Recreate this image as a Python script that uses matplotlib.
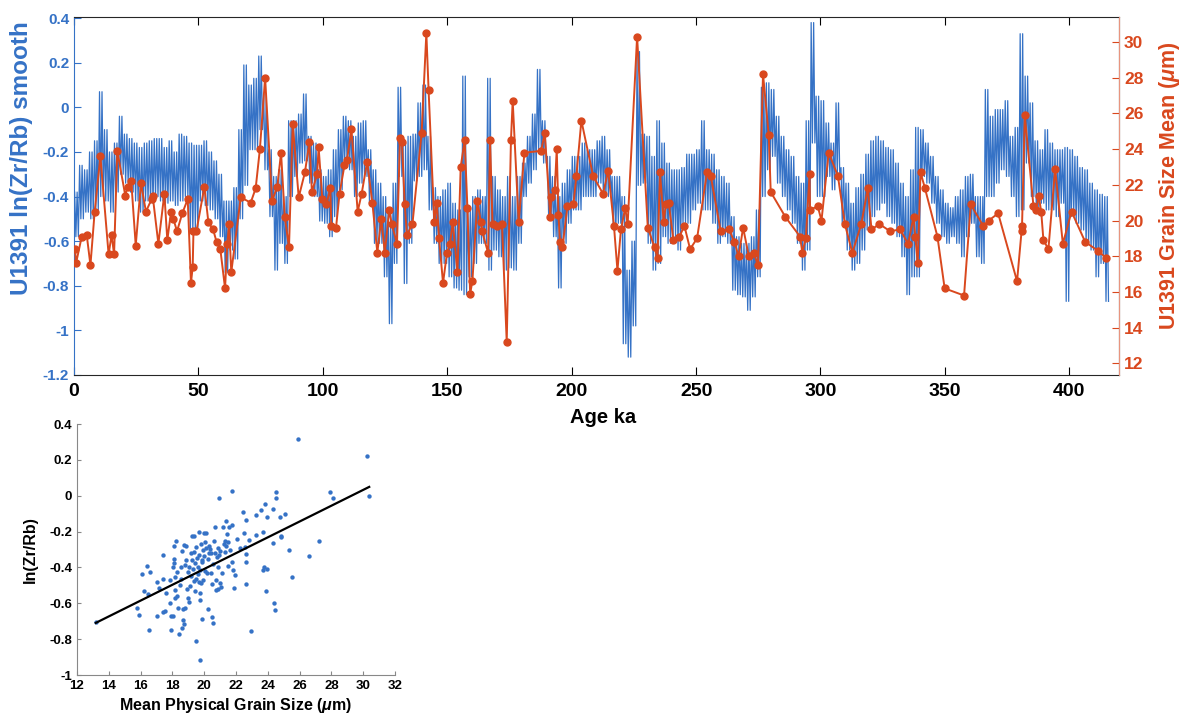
import matplotlib
matplotlib.use('Agg')
import matplotlib.pyplot as plt
import numpy as np

plt.rcParams['font.family'] = ['Liberation Sans', 'DejaVu Sans']
plt.rcParams['font.weight'] = 'bold'
plt.rcParams['axes.labelweight'] = 'bold'
plt.rcParams['mathtext.fontset'] = 'custom'
plt.rcParams['mathtext.rm'] = 'Liberation Sans:bold'
plt.rcParams['mathtext.it'] = 'Liberation Sans:italic:bold'

BLUE = '#3572C6'
RED = '#D9481E'

# ln(Zr/Rb) smooth: envelope (low / high) in 2 ka bins, bins start at 0 ka
xrf_bin_start = np.arange(0, 416, 2)
xrf_lo = [-0.58, -0.50, -0.47, -0.50, -0.46, -0.40, -0.42, -0.47, -0.38, -0.30,
          -0.34, -0.38, -0.42, -0.47, -0.42, -0.43, -0.40, -0.42, -0.43, -0.42,
          -0.44, -0.42, -0.40, -0.56, -0.55, -0.42, -0.44, -0.46, -0.50, -0.58,
          -0.74, -0.64, -0.68, -0.50, -0.35, -0.19, -0.19, -0.10, -0.28, -0.49,
          -0.73, -0.61, -0.70, -0.40, -0.31, -0.25, -0.24, -0.34, -0.40, -0.51,
          -0.52, -0.58, -0.49, -0.37, -0.25, -0.28, -0.40, -0.34, -0.31, -0.43,
          -0.61, -0.61, -0.76, -0.97, -0.70, -0.31, -0.79, -0.61, -0.33, -0.31,
          -0.28, -0.46, -0.61, -0.70, -0.70, -0.76, -0.81, -0.82, -0.84, -0.76,
          -0.70, -0.61, -0.61, -0.73, -0.64, -0.67, -0.73, -0.72, -0.73, -0.61,
          -0.40, -0.34, -0.28, -0.19, -0.25, -0.49, -0.58, -0.81, -0.61, -0.52,
          -0.46, -0.46, -0.40, -0.40, -0.40, -0.34, -0.40, -0.40, -0.55, -0.52,
          -1.06, -1.12, -0.98, -0.35, -0.34, -0.61, -0.73, -0.70, -0.58, -0.61,
          -0.58, -0.64, -0.52, -0.52, -0.46, -0.43, -0.46, -0.46, -0.52, -0.61,
          -0.58, -0.61, -0.82, -0.84, -0.85, -0.91, -0.85, -0.76, -0.40, -0.28,
          -0.22, -0.34, -0.40, -0.46, -0.52, -0.61, -0.73, -0.64, -0.16, -0.40,
          -0.40, -0.31, -0.37, -0.31, -0.52, -0.64, -0.73, -0.70, -0.64, -0.55,
          -0.49, -0.46, -0.43, -0.49, -0.52, -0.58, -0.67, -0.84, -0.76, -0.76,
          -0.31, -0.34, -0.43, -0.52, -0.58, -0.61, -0.58, -0.61, -0.67, -0.58,
          -0.52, -0.67, -0.70, -0.40, -0.40, -0.34, -0.28, -0.31, -0.40, -0.49,
          -0.46, -0.25, -0.40, -0.46, -0.43, -0.46, -0.46, -0.49, -0.43, -0.87,
          -0.49, -0.52, -0.55, -0.61, -0.64, -0.76, -0.70, -0.87]
xrf_hi = [-0.38, -0.26, -0.28, -0.20, -0.15, 0.07, -0.10, -0.20, -0.16, -0.04,
          -0.12, -0.14, -0.16, -0.18, -0.16, -0.15, -0.14, -0.14, -0.18, -0.15,
          -0.20, -0.12, -0.13, -0.16, -0.17, -0.17, -0.15, -0.20, -0.24, -0.30,
          -0.42, -0.42, -0.36, -0.10, 0.19, 0.10, 0.13, 0.23, 0.06, -0.19,
          -0.31, -0.28, -0.40, -0.06, -0.06, -0.03, 0.06, -0.13, -0.16, -0.28,
          -0.31, -0.28, -0.19, -0.10, -0.04, -0.06, -0.13, -0.07, -0.06, -0.19,
          -0.28, -0.34, -0.40, -0.46, -0.34, 0.09, -0.16, -0.13, -0.12, 0.02,
          0.10, -0.13, -0.36, -0.40, -0.37, -0.34, -0.43, -0.46, 0.14, -0.46,
          -0.40, -0.37, -0.40, 0.13, -0.31, -0.37, -0.40, -0.31, -0.40, -0.31,
          -0.25, -0.13, -0.03, 0.17, -0.06, -0.22, -0.31, -0.40, -0.34, -0.28,
          -0.22, -0.22, -0.16, -0.19, -0.19, -0.15, -0.13, -0.19, -0.31, -0.31,
          -0.40, -0.73, -0.60, 0.25, -0.12, -0.13, -0.22, -0.06, -0.16, -0.25,
          -0.28, -0.28, -0.27, -0.21, -0.21, -0.19, -0.06, -0.19, -0.21, -0.28,
          -0.31, -0.34, -0.49, -0.58, -0.61, -0.61, -0.58, -0.46, 0.09, 0.11,
          0.08, -0.04, -0.13, -0.19, -0.22, -0.31, -0.34, -0.06, 0.38, 0.05,
          0.03, -0.07, -0.16, 0.02, -0.27, -0.34, -0.43, -0.36, -0.30, -0.21,
          -0.15, -0.13, -0.15, -0.18, -0.19, -0.25, -0.34, -0.40, -0.28, -0.09,
          -0.10, -0.16, -0.22, -0.31, -0.37, -0.43, -0.45, -0.40, -0.37, -0.31,
          -0.30, -0.40, -0.40, 0.08, -0.04, -0.01, -0.01, 0.03, -0.13, -0.09,
          0.33, 0.14, 0.02, -0.15, -0.19, -0.10, -0.16, -0.19, -0.19, -0.18,
          -0.19, -0.22, -0.27, -0.28, -0.34, -0.37, -0.39, -0.40]

# grain size mean (um) against age (ka)
gs_age = [0.4, 0.8, 3.1, 5.1, 6.6, 8.3, 10.6, 13.9, 15.1, 16.1, 17.4, 20.6, 21.6, 23.0,
          24.8, 26.9, 28.9, 31.2, 31.6, 33.9, 36.3, 37.5, 39.0, 39.9, 41.4, 43.5, 45.7,
          47.0, 47.7, 48.0, 49.2, 52.4, 54.0, 55.9, 57.3, 58.8, 60.7, 61.6, 62.3, 63.2,
          67.0, 71.0, 73.0, 74.7, 76.8, 79.6, 81.7, 83.2, 84.7, 86.4, 87.9, 90.3, 92.8,
          94.6, 95.6, 97.7, 98.3, 99.8, 101.4, 103.0, 103.4, 105.3, 106.7, 108.7, 109.7,
          111.5, 114.0, 115.6, 117.8, 119.9, 121.9, 123.5, 124.9, 126.7, 127.7, 129.8,
          131.0, 131.8, 132.9, 133.8, 136.0, 139.7, 141.6, 142.5, 144.8, 145.8, 146.7,
          148.3, 149.9, 151.1, 152.2, 154.1, 155.4, 157.0, 158.1, 159.2, 160.1, 162.1,
          163.5, 164.0, 166.4, 167.2, 168.2, 170.0, 172.0, 173.9, 175.6, 176.3, 178.7,
          181.0, 187.7, 189.2, 191.4, 191.8, 193.2, 194.0, 194.7, 195.3, 196.3, 198.3,
          200.7, 201.9, 203.9, 208.6, 212.6, 214.7, 217.0, 218.4, 219.8, 221.5, 222.5,
          226.3, 230.6, 233.3, 234.5, 235.5, 237.0, 237.8, 239.0, 240.9, 243.3, 245.3,
          247.6, 250.4, 254.4, 255.9, 259.9, 263.3, 265.4, 267.1, 268.9, 271.2, 273.1,
          274.9, 276.9, 279.2, 280.0, 285.9, 291.8, 292.7, 294.1, 295.6, 295.8, 298.9,
          300.4, 303.3, 307.0, 309.8, 312.8, 316.4, 319.0, 320.5, 323.7, 328.0, 332.0,
          335.2, 337.4, 338.1, 339.1, 340.2, 342.0, 347.0, 349.9, 357.7, 360.4, 365.4,
          367.6, 371.4, 379.0, 380.8, 381.0, 382.1, 385.6, 386.7, 387.7, 388.7, 389.6,
          391.6, 394.3, 397.4, 400.9, 406.4, 411.6, 414.8]
gs_mean = [18.4, 17.6, 19.1, 19.2, 17.5, 20.5, 23.6, 18.1, 19.2, 18.1, 23.9, 21.4, 21.9, 22.2,
           18.6, 22.1, 20.5, 21.2, 21.4, 18.7, 21.5, 18.9, 20.5, 20.1, 19.4, 20.4, 21.2,
           16.5, 17.4, 19.4, 19.4, 21.9, 19.9, 19.5, 18.8, 18.4, 16.2, 18.7, 19.8, 17.1,
           21.3, 21.0, 21.8, 24.0, 28.0, 21.1, 21.9, 23.8, 20.2, 18.5, 25.4, 21.3, 22.7,
           24.4, 21.6, 22.6, 24.1, 21.2, 20.9, 21.8, 19.7, 19.6, 21.5, 23.1, 23.4,
           25.1, 20.5, 21.5, 23.3, 21.0, 18.2, 20.1, 18.2, 20.6, 19.8, 18.7,
           24.6, 24.4, 20.9, 19.2, 19.8, 24.9, 30.5, 27.3, 19.9, 21.0, 19.0,
           16.5, 18.2, 18.7, 19.9, 17.1, 23.0, 24.5, 20.7, 15.9, 16.6, 21.1,
           19.9, 19.4, 18.2, 24.5, 19.8, 19.7, 19.8, 13.2, 24.5, 26.7, 19.9,
           23.8, 23.9, 24.9, 20.2, 21.3, 21.7, 24.0, 20.3, 18.8, 18.5, 20.8,
           20.9, 22.5, 25.6, 22.5, 21.5, 22.8, 19.7, 17.2, 19.5, 20.7, 19.8,
           30.3, 19.6, 18.5, 17.9, 22.7, 19.9, 20.9, 21.0, 18.9, 19.1, 19.7,
           18.4, 19.0, 22.7, 22.5, 19.4, 19.5, 18.8, 18.0, 19.6, 18.0, 18.2,
           17.5, 28.2, 24.8, 21.6, 20.2, 19.1, 18.2, 19.0, 22.6, 20.6, 20.8,
           20.0, 23.8, 22.5, 19.8, 18.2, 19.8, 21.8, 19.5, 19.8, 19.4, 19.5,
           18.7, 20.2, 19.1, 17.6, 22.7, 21.8, 19.1, 16.2, 15.8, 20.9, 19.7,
           20.0, 20.4, 16.6, 19.4, 19.7, 25.9, 20.8, 20.6, 21.4, 20.5, 18.9,
           18.4, 22.9, 18.7, 20.5, 18.8, 18.3, 17.9]

# cross plot: mean physical grain size vs ln(Zr/Rb)
sc_grain = [13.18, 15.76, 15.92, 16.11, 16.20, 16.39, 16.49, 16.53, 16.60, 17.02, 17.06, 17.16,
            17.39, 17.41, 17.44, 17.54, 17.60, 17.86, 17.88, 17.92, 17.94, 18.02, 18.07, 18.11,
            18.13, 18.13, 18.15, 18.17, 18.19, 18.25, 18.27, 18.32, 18.38, 18.42, 18.46, 18.53,
            18.57, 18.59, 18.61, 18.65, 18.67, 18.72, 18.76, 18.78, 18.80, 18.84, 18.88, 18.93,
            18.97, 19.01, 19.05, 19.07, 19.09, 19.14, 19.16, 19.22, 19.26, 19.30, 19.35, 19.37,
            19.39, 19.43, 19.45, 19.47, 19.49, 19.51, 19.56, 19.60, 19.64, 19.66, 19.68, 19.70,
            19.72, 19.74, 19.76, 19.76, 19.81, 19.83, 19.85, 19.87, 19.89, 19.91, 19.95, 19.97,
            20.02, 20.06, 20.08, 20.10, 20.14, 20.18, 20.23, 20.25, 20.29, 20.31, 20.35, 20.42,
            20.46, 20.48, 20.52, 20.56, 20.58, 20.63, 20.65, 20.69, 20.73, 20.77, 20.79, 20.84,
            20.86, 20.90, 20.94, 20.96, 20.98, 21.00, 21.07, 21.15, 21.19, 21.23, 21.28, 21.32,
            21.36, 21.40, 21.44, 21.49, 21.51, 21.57, 21.65, 21.72, 21.76, 21.78, 21.82, 21.86,
            21.91, 22.07, 22.28, 22.45, 22.49, 22.56, 22.60, 22.62, 22.64, 22.64, 22.79, 22.96,
            23.23, 23.29, 23.56, 23.69, 23.71, 23.79, 23.84, 23.88, 23.94, 23.98, 24.32, 24.36,
            24.42, 24.47, 24.51, 24.53, 24.76, 24.82, 24.86, 25.07, 25.35, 25.52, 25.87, 26.61,
            27.24, 27.91, 28.10, 30.22, 30.38]
sc_lnzr = [-0.704, -0.629, -0.663, -0.438, -0.531, -0.391, -0.549, -0.747, -0.425, -0.482, -0.670,
           -0.512, -0.464, -0.333, -0.646, -0.642, -0.542, -0.471, -0.596, -0.749, -0.669, -0.400,
           -0.669, -0.354, -0.281, -0.378, -0.525, -0.451, -0.568, -0.250, -0.562, -0.425, -0.629,
           -0.769, -0.497, -0.399, -0.466, -0.307, -0.739, -0.693, -0.633, -0.276, -0.713, -0.624,
           -0.384, -0.361, -0.283, -0.520, -0.423, -0.572, -0.395, -0.592, -0.503, -0.322, -0.447,
           -0.359, -0.223, -0.410, -0.313, -0.475, -0.227, -0.376, -0.529, -0.808, -0.464, -0.287,
           -0.348, -0.395, -0.439, -0.484, -0.330, -0.205, -0.413, -0.583, -0.916, -0.540, -0.486,
           -0.272, -0.359, -0.687, -0.367, -0.469, -0.302, -0.207, -0.335, -0.421, -0.257, -0.210,
           -0.291, -0.432, -0.631, -0.354, -0.317, -0.279, -0.296, -0.432, -0.318, -0.678, -0.495,
           -0.382, -0.708, -0.251, -0.320, -0.175, -0.525, -0.469, -0.341, -0.395, -0.292, -0.521,
           -0.331, -0.015, -0.488, -0.311, -0.507, -0.432, -0.173, -0.270, -0.315, -0.251, -0.143,
           -0.283, -0.212, -0.393, -0.259, -0.173, -0.304, 0.028, -0.166, -0.367, -0.413, -0.512,
           -0.441, -0.240, -0.294, -0.093, -0.210, -0.287, -0.493, -0.324, -0.134, -0.367, -0.248,
           -0.752, -0.108, -0.220, -0.078, -0.203, -0.415, -0.399, -0.048, -0.534, -0.117, -0.410,
           -0.073, -0.264, -0.600, -0.637, -0.013, 0.020, -0.121, -0.229, -0.223, -0.101, -0.302,
           -0.456, 0.318, -0.337, -0.253, 0.020, -0.015, 0.223, -0.002]


def fmt(v):
    return '%g' % (round(v, 1) + 0.0)


fig = plt.figure(figsize=(11.9, 7.2), dpi=100)

# ---- time series ----
ax = fig.add_axes([0.0622, 0.4792, 0.8782, 0.4972])
# each 2 ka bin drawn as two swings between its low and high value
xs = np.column_stack([xrf_bin_start + 0.25, xrf_bin_start + 0.75,
                      xrf_bin_start + 1.25, xrf_bin_start + 1.75]).ravel()
ys = np.column_stack([xrf_hi, xrf_lo, xrf_hi, xrf_lo]).ravel()
ax.plot(xs, ys, color=BLUE, lw=0.9)
ax.set_xlim(0, 420)
ax.set_ylim(-1.2, 0.405)
yt = np.arange(-1.2, 0.41, 0.2)
ax.set_yticks(yt, [fmt(v) for v in yt])
ax.set_xticks(np.arange(0, 401, 50))
ax.tick_params(axis='x', direction='in', top=True, length=6, labelsize=14, pad=6)
ax.tick_params(axis='y', direction='in', length=5, colors=BLUE, labelsize=11)
ax.spines['left'].set_color(BLUE)
ax.spines['top'].set_color('#262626')
ax.spines['bottom'].set_color('#262626')
ax.set_xlabel('Age ka', fontsize=14.5)
ax.xaxis.set_label_coords(0.506, -0.092)
ax.set_ylabel('U1391 ln(Zr/Rb) smooth', fontsize=17.5, color=BLUE)
ax.yaxis.set_label_coords(-0.039, 0.607)

ax2 = ax.twinx()
ax2.plot(gs_age, gs_mean, '-o', color=RED, lw=1.4, ms=5)
ax2.set_ylim(11.35, 31.4)
ax2.set_yticks(np.arange(12, 31, 2))
ax2.tick_params(axis='y', direction='in', length=5, colors=RED, labelsize=12.5)
for s in ['left', 'top', 'bottom']:
    ax2.spines[s].set_visible(False)
ax2.spines['right'].set_color('#E8957F')
ax2.set_ylabel('U1391 Grain Size Mean ($\\mu$m)', fontsize=15.5, color=RED)
ax2.yaxis.set_label_coords(1.036, 0.53)

# ---- cross plot ----
axs = fig.add_axes([0.0647, 0.0625, 0.2672, 0.3486])
axs.scatter(sc_grain, sc_lnzr, s=10, color=BLUE, linewidths=0)
k, b = np.polyfit(sc_grain, sc_lnzr, 1)
gx = np.array([min(sc_grain), max(sc_grain)])
axs.plot(gx, k * gx + b, color='black', lw=1.6)
axs.set_xlim(12, 32)
axs.set_ylim(-1, 0.4)
axs.set_xticks(np.arange(12, 33, 2))
st = np.arange(-1.0, 0.41, 0.2)
axs.set_yticks(st, [fmt(v) for v in st])
axs.tick_params(direction='in', length=3, labelsize=9.5, color='#888888')
for s in ['top', 'right']:
    axs.spines[s].set_visible(False)
for s in ['left', 'bottom']:
    axs.spines[s].set_color('#888888')
axs.set_xlabel('Mean Physical Grain Size ($\\mu$m)', fontsize=11.5)
axs.xaxis.set_label_coords(0.5, -0.085)
axs.set_ylabel('ln(Zr/Rb)', fontsize=11.5)
axs.yaxis.set_label_coords(-0.123, 0.5)

fig.savefig('out.png', dpi=100)
